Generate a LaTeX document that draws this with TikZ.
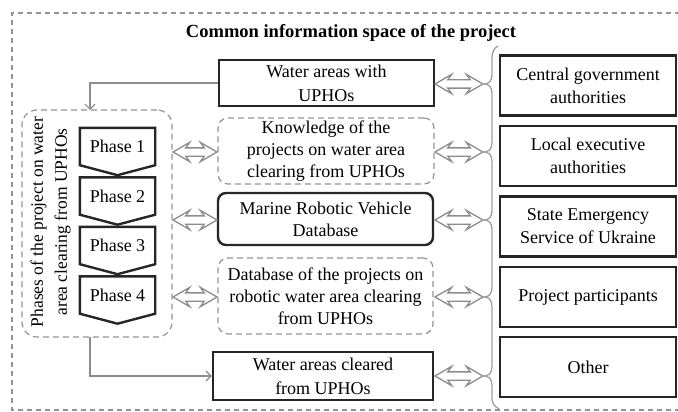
\documentclass[tikz,border=0pt]{standalone}
\usepackage{fontspec}
\setmainfont{Liberation Serif}
\usetikzlibrary{shapes.arrows, arrows.meta, calc}

\tikzset{
  frame/.style={draw=gray!85, line width=1.2pt, dash pattern=on 5pt off 4pt},
  solidbox/.style={draw=black!85, line width=2.4pt, align=center, inner sep=0pt},
  softbox/.style={draw=gray!85, line width=1.2pt, dash pattern=on 6pt off 4pt,
    rounded corners=10pt, align=center, inner sep=0pt},
  roundbox/.style={solidbox, rounded corners=8pt},
  sidebox/.style={solidbox, minimum width=176pt, minimum height=60pt},
  phasebox/.style={minimum width=75pt, minimum height=37pt, inner sep=0pt},
  phaseline/.style={draw=black!85, line width=2.4pt, line join=miter},
  link/.style={draw=gray!90, line width=1.2pt, -{Straight Barb[length=5pt,width=10pt,line width=1.2pt]}},
  dblarrow/.style={double arrow, draw=gray!90, fill=white, line width=1.3pt,
    double arrow head extend=5.5pt, double arrow head indent=4pt,
    double arrow tip angle=60, inner xsep=0pt, inner ysep=3.5pt},
  brace/.style={draw=gray!75, line width=1.3pt},
}

\begin{document}
\begin{tikzpicture}[x=1pt, y=-1pt, font=\fontsize{18}{22}\selectfont]
\useasboundingbox (0,0) rectangle (678,412);

% outer frame of the information space (open on the right)
\draw[frame] (680,13) -- (12,13) -- (12,410) -- (680,410);
\node[font=\fontsize{18.5}{22}\selectfont\bfseries] (title) at (351,33)
  {Common information space of the project};

% central column
\node[solidbox, minimum width=215pt, minimum height=46pt,
  font=\fontsize{18}{24}\selectfont] (wa1) at (326.5,83) {Water areas with\\UPHOs};
\node[softbox, minimum width=216pt, minimum height=66pt] (know) at (326,151)
  {Knowledge of the\\projects on water area\\clearing from UPHOs};
\node[roundbox, minimum width=215pt, minimum height=52pt] (marine) at (325.5,219)
  {Marine Robotic Vehicle\\Database};
\node[softbox, minimum width=215pt, minimum height=76pt] (db) at (325.5,296)
  {Database of the projects on\\robotic water area clearing\\from UPHOs};
\node[solidbox, minimum width=220pt, minimum height=48pt,
  font=\fontsize{18}{24}\selectfont] (wa2) at (323,376) {Water areas cleared\\from UPHOs};

% participants column
\node[sidebox, font=\fontsize{18}{23}\selectfont] (cga) at (588,85.5) {Central government\\authorities};
\node[sidebox, font=\fontsize{18}{23}\selectfont] (lea) at (588,156) {Local executive\\authorities};
\node[sidebox, font=\fontsize{18}{23}\selectfont] (ses) at (588,226.5) {State Emergency\\Service of Ukraine};
\node[sidebox] (pp) at (588,297) {Project participants};
\node[sidebox] (oth) at (588,367) {Other};

% phases group
\node[softbox, rounded corners=15pt, minimum width=150pt, minimum height=227pt] (grp) at (97,223.5) {};
\node[rotate=90, align=center, font=\fontsize{17.5}{24}\selectfont] (glabel) at (50.5,222)
  {Phases of the project on water\\area clearing from UPHOs};

\foreach \n/\y in {1/146.5, 2/196, 3/245.5, 4/295} {
  \node[phasebox] (p\n) at (117.5,\y) {Phase \n};
  \draw[phaseline] (p\n.north west) -- (p\n.north east) -- (p\n.south east)
    -- ([yshift=-10pt]p\n.south) -- (p\n.south west) -- cycle;
}

% flow into and out of the phases
\coordinate (gin) at (90,110);
\coordinate (gout) at (90,337);
\draw[link] (wa1.west) -| (gin);
\draw[link] (gout) |- (wa2.west);

% exchanges between phases and knowledge bases
\node[dblarrow, minimum height=44pt] (la1) at (195,152) {};
\node[dblarrow, minimum height=44pt] (la2) at (195,220) {};
\node[dblarrow, minimum height=44pt] (la3) at (195,297) {};

% exchanges with the participants
\node[dblarrow, minimum height=48pt] (ra1) at (459,84) {};
\node[dblarrow, minimum height=48pt] (ra2) at (459,152) {};
\node[dblarrow, minimum height=48pt] (ra3) at (459,220) {};
\node[dblarrow, minimum height=48pt] (ra4) at (459,297) {};
\node[dblarrow, minimum height=48pt] (ra5) at (459,376) {};

% multi-pointed brace gathering the participants
\draw[brace] (498,46) .. controls (494,48) and (492,52) .. (492,58)
  -- (492,74) .. controls (492,81) and (489,84) .. (484,84)
     .. controls (489,84) and (492,87) .. (492,94)
  -- (492,142) .. controls (492,149) and (489,152) .. (484,152)
     .. controls (489,152) and (492,155) .. (492,162)
  -- (492,210) .. controls (492,217) and (489,220) .. (484,220)
     .. controls (489,220) and (492,223) .. (492,230)
  -- (492,287) .. controls (492,294) and (489,297) .. (484,297)
     .. controls (489,297) and (492,300) .. (492,307)
  -- (492,366) .. controls (492,373) and (489,376) .. (484,376)
     .. controls (489,376) and (492,379) .. (492,386)
  -- (492,398) .. controls (492,403) and (494,406) .. (499,409);
\end{tikzpicture}
\end{document}
